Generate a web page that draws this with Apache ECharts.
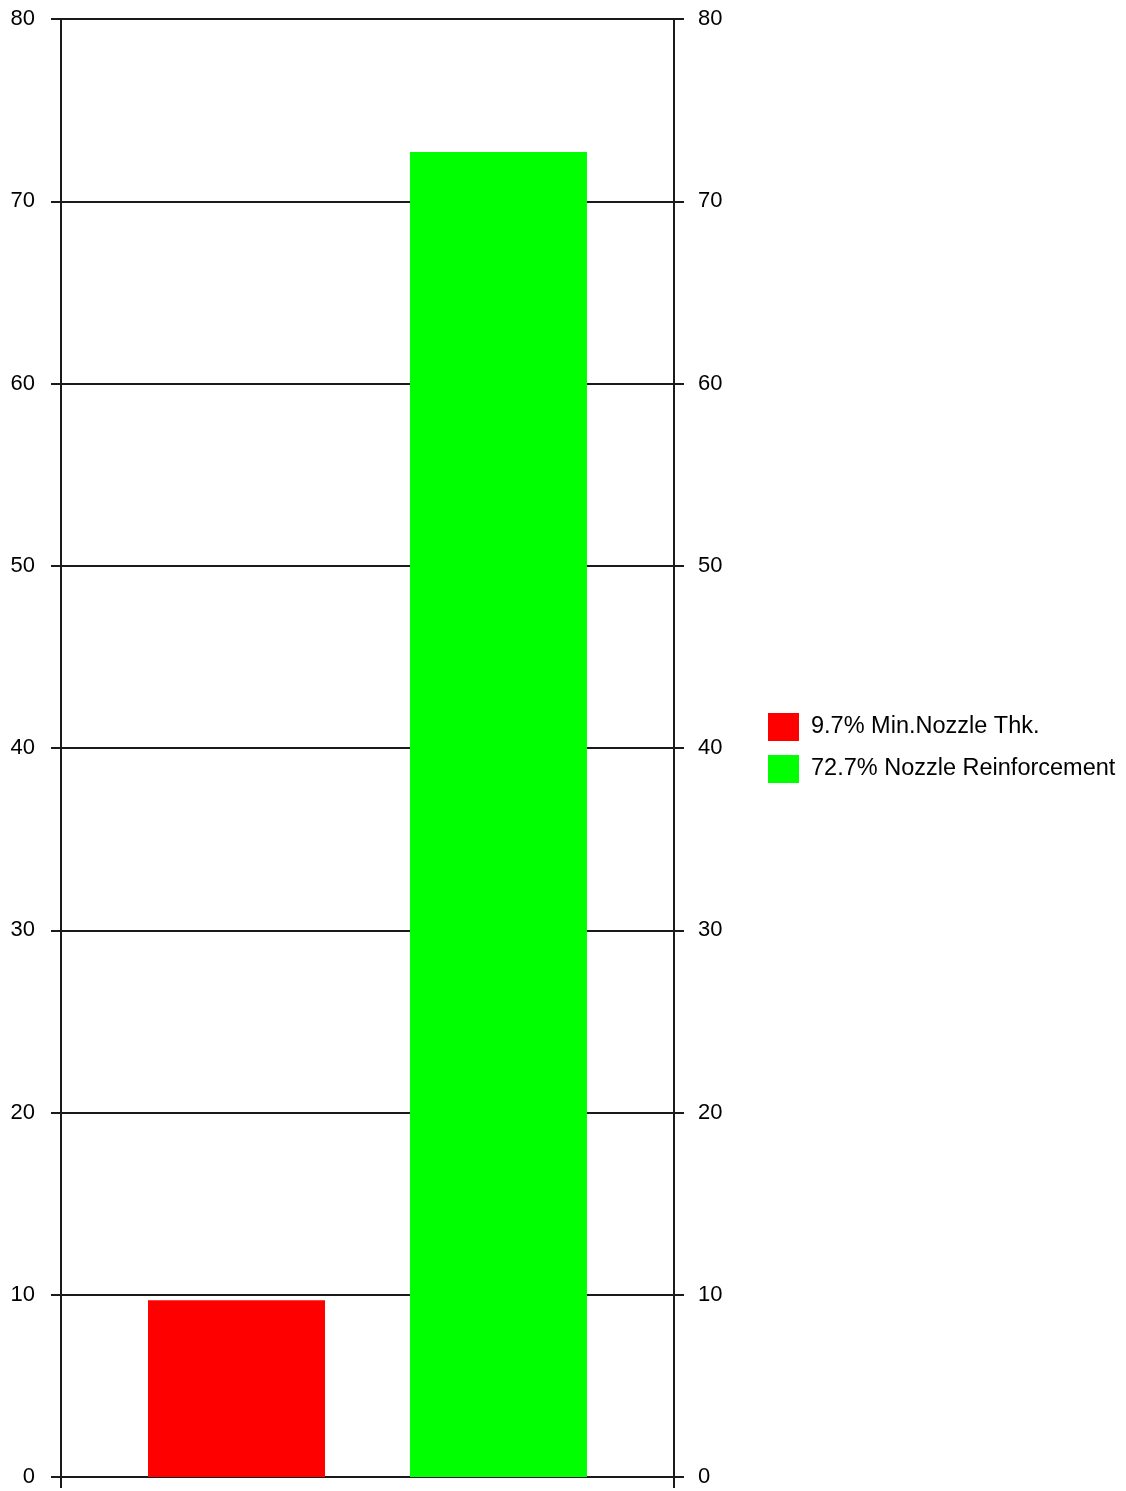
<!DOCTYPE html>
<html>
<head>
<meta charset="utf-8">
<style>
  html, body { margin: 0; padding: 0; background: #fff; }
  #chart { width: 1126px; height: 1491px; }
</style>
<script src="https://cdn.jsdelivr.net/npm/echarts@6/dist/echarts.min.js"></script>
</head>
<body>
<div id="chart"></div>
<script>
// Nozzle check utilisation (%)
const categories = [''];
const seriesNames = ['9.7% Min.Nozzle Thk.', '72.7% Nozzle Reinforcement'];
const minNozzleThk = [9.7];
const nozzleReinforcement = [72.7];
const yTicks = { min: 0, max: 80, interval: 10 };

const FONT = '"Liberation Sans", Arial, sans-serif';
const AXIS_COLOR = '#1a1a1a';

const chart = echarts.init(document.getElementById('chart'), null, { renderer: 'canvas' });

const valueAxisBase = {
  type: 'value',
  min: yTicks.min,
  max: yTicks.max,
  interval: yTicks.interval,
  axisLine: { show: true, lineStyle: { color: AXIS_COLOR, width: 2 } },
  axisTick: { show: true, inside: false, length: 10, lineStyle: { color: AXIS_COLOR, width: 2 } },
  axisLabel: { color: '#000', fontFamily: FONT, fontSize: 22, verticalAlign: 'middle', padding: [0, 0, 4, 0] }
};

chart.setOption({
  animation: false,
  backgroundColor: '#fff',
  grid: { left: 61, right: 452, top: 19, bottom: 14, containLabel: false },
  legend: {
    orient: 'vertical',
    left: 768,
    top: 713,
    padding: 0,
    itemWidth: 31,
    itemHeight: 28,
    itemGap: 14,
    icon: 'rect',
    textStyle: { color: '#000', fontFamily: FONT, fontSize: 23.5, padding: [0, 0, 0, 7] },
    data: seriesNames
  },
  xAxis: {
    type: 'category',
    data: categories,
    axisLine: { show: true, lineStyle: { color: AXIS_COLOR, width: 2 } },
    axisTick: { show: true, length: 11, lineStyle: { color: AXIS_COLOR, width: 2 } },
    axisLabel: { show: false },
    splitLine: { show: false }
  },
  yAxis: [
    Object.assign({}, valueAxisBase, {
      position: 'left',
      axisLabel: Object.assign({}, valueAxisBase.axisLabel, { margin: 26, align: 'right' }),
      splitLine: { show: true, lineStyle: { color: AXIS_COLOR, width: 2 } }
    }),
    Object.assign({}, valueAxisBase, {
      position: 'right',
      axisLabel: Object.assign({}, valueAxisBase.axisLabel, { margin: 24, align: 'left' }),
      splitLine: { show: false }
    })
  ],
  series: [
    {
      name: seriesNames[0],
      type: 'bar',
      data: minNozzleThk,
      barWidth: 177,
      barGap: '48%',
      itemStyle: { color: '#ff0000' }
    },
    {
      name: seriesNames[1],
      type: 'bar',
      data: nozzleReinforcement,
      barWidth: 177,
      barGap: '48%',
      itemStyle: { color: '#00ff00' }
    }
  ]
});
</script>
</body>
</html>
